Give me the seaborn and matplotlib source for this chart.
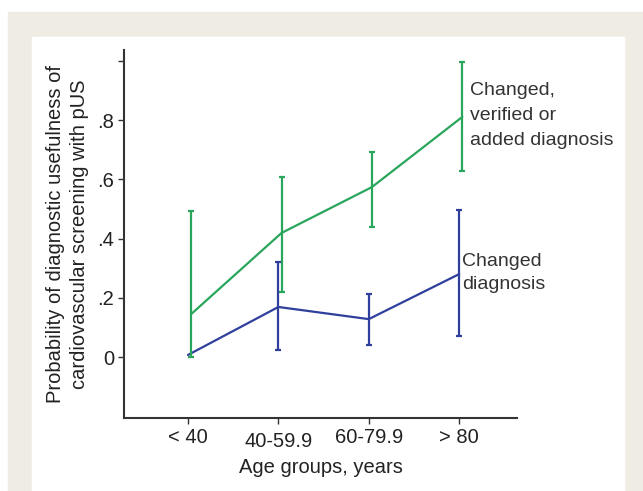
import numpy as np
import pandas as pd
import matplotlib
matplotlib.use("Agg")
import matplotlib.pyplot as plt
import matplotlib.transforms as mtransforms
from matplotlib.patches import Rectangle
import seaborn as sns

# values
age_groups = ["< 40", "40-59.9", "60-79.9", "> 80"]
any_diag = [0.145, 0.419, 0.574, 0.811]
any_lo = [0.0, 0.22, 0.439, 0.628]
any_hi = [0.493, 0.608, 0.693, 0.997]
changed = [0.007, 0.169, 0.128, 0.28]
changed_lo = [np.nan, 0.024, 0.041, 0.071]
changed_hi = [np.nan, 0.321, 0.213, 0.497]

green = "#2aa65c"
blue = "#2f3f9c"

sns.set_style("white")
plt.rcParams["font.family"] = ["Liberation Sans", "DejaVu Sans"]

fig = plt.figure(figsize=(6.43, 4.91), dpi=100)
fig.patch.set_facecolor("white")
# beige frame and white panel behind the chart
fig.patches.append(Rectangle((8 / 643, 0), 1, (491 - 12) / 491,
                             transform=fig.transFigure, color="#efede3", zorder=-2))
fig.patches.append(Rectangle((32 / 643, 0), (624 - 32) / 643, (491 - 37) / 491,
                             transform=fig.transFigure, color="white", zorder=-1))

ax = fig.add_axes([124 / 643, 1 - 418 / 491, (517 - 124) / 643, (418 - 50) / 491])
ax.set_facecolor("none")

xpos = np.arange(len(age_groups))
df = pd.DataFrame({
    "x": np.concatenate([xpos + 0.035, xpos]),
    "p": any_diag + changed,
    "series": ["any"] * 4 + ["changed"] * 4,
})
sns.lineplot(data=df, x="x", y="p", hue="series", palette=[green, blue],
             linewidth=1.6, legend=False, ax=ax)

ax.errorbar(xpos + 0.035, any_diag,
            yerr=[np.array(any_diag) - np.array(any_lo), np.array(any_hi) - np.array(any_diag)],
            fmt="none", ecolor=green, elinewidth=1.6, capsize=2.5, capthick=1.6)
ax.errorbar(xpos, changed,
            yerr=[np.array(changed) - np.array(changed_lo), np.array(changed_hi) - np.array(changed)],
            fmt="none", ecolor=blue, elinewidth=1.6, capsize=2.5, capthick=1.6)

ax.set_xlim(-0.708, 3.64)
ax.set_ylim(-0.206, 1.037)
ax.set_xticks(xpos)
ax.set_xticklabels(age_groups, fontsize=14.5)
ax.set_yticks([0, 0.2, 0.4, 0.6, 0.8, 1.0])
ax.set_yticklabels(["0", ".2", ".4", ".6", ".8", ""], fontsize=14.5)
ax.tick_params(axis="both", direction="out", length=4, width=1, color="#333333",
               labelcolor="#222222", bottom=True, left=True, pad=3)
# the second age label sits a bit lower in the original
lab = ax.get_xticklabels()[1]
lab.set_transform(lab.get_transform() + mtransforms.ScaledTranslation(0, -3 / 72, fig.dpi_scale_trans))

for s in ["top", "right"]:
    ax.spines[s].set_visible(False)
for s in ["left", "bottom"]:
    ax.spines[s].set_color("#333333")
    ax.spines[s].set_linewidth(1.5)

ax.set_xlabel("Age groups, years", fontsize=14.5, color="#222222", labelpad=5)
ax.set_ylabel("Probability of diagnostic usefulness of\ncardiovascular screening with pUS",
              fontsize=14.5, color="#222222", labelpad=6, linespacing=1.35)

ax.text(3.125, 0.928, "Changed,\nverified or\nadded diagnosis", fontsize=14,
        color="#333333", va="top", ha="left", linespacing=1.6)
ax.text(3.03, 0.35, "Changed\ndiagnosis", fontsize=14,
        color="#333333", va="top", ha="left", linespacing=1.4)

fig.savefig("out.png", dpi=100)
